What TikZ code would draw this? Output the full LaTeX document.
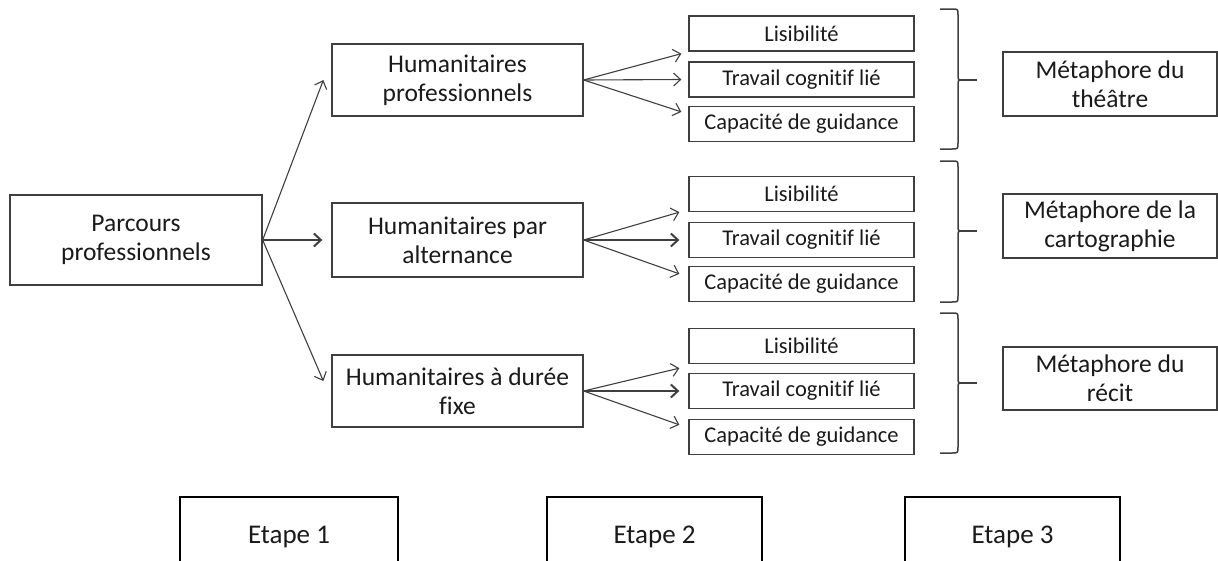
\documentclass[tikz,border=0pt]{standalone}
\usepackage{fontspec}
\setmainfont{Carlito}[Ligatures=NoCommon]
\usetikzlibrary{arrows.meta}
\definecolor{bd}{HTML}{3F3F3F}
\definecolor{tx}{HTML}{1A1A1A}
\tikzset{
 bigbox/.style={draw=bd, line width=1.3pt, minimum width=251pt, minimum height=72pt, align=center, font=\fontsize{25.5}{29}\selectfont, text=tx, inner sep=0pt},
 smallbox/.style={draw=bd, line width=1.3pt, minimum width=225pt, minimum height=35pt, font=\fontsize{22.5}{25}\selectfont, text=tx, inner sep=0pt},
 metabox/.style={draw=bd, line width=1.3pt, minimum width=214pt, minimum height=64pt, align=center, font=\fontsize{25.5}{29}\selectfont, text=tx, inner sep=0pt},
 etapebox/.style={draw=black, line width=2.8pt, minimum width=216pt, minimum height=80pt, font=\fontsize{27}{30}\selectfont, text=tx, inner sep=0pt},
 arr/.style={draw=bd, line width=1.1pt, -{Straight Barb[length=7pt,width=13pt]}},
 arrthick/.style={arr, line width=2pt},
 bracepath/.style={draw=bd, line width=1.5pt},
}
\newcommand{\curlybr}[3]{%
 \draw[bracepath] (940,#1) -- (952,#1) .. controls (958,#1) .. (958,#1+6) -- (958,#2-5) .. controls (958,#2) .. (963,#2) .. controls (958,#2) .. (958,#2+5) -- (958,#3-6) .. controls (958,#3) .. (952,#3) -- (940,#3);
 \draw[bracepath] (963,#2) -- (977,#2);
}
\begin{document}
\begin{tikzpicture}[x=1pt,y=-1pt]
\useasboundingbox (0,0) rectangle (1218,560);
\clip (0,0) rectangle (1218,560);
% main boxes
\node[bigbox, minimum width=252pt, minimum height=90pt] (P) at (136,240) {Parcours\\professionnels};
\node[bigbox] (h1) at (457.5,80) {Humanitaires\\professionnels};
\node[bigbox, minimum height=74pt] (h2) at (457.5,240) {Humanitaires par\\alternance};
\node[bigbox] (h3) at (457.5,391) {Humanitaires à durée\\fixe};
% small boxes
\node[smallbox] (L1) at (801.5,33.5) {Lisibilité};
\node[smallbox] (T1) at (801.5,79.5) {Travail cognitif lié};
\node[smallbox] (C1) at (801.5,124) {Capacité de guidance};
\node[smallbox] (L2) at (801.5,194) {Lisibilité};
\node[smallbox] (T2) at (801.5,240) {Travail cognitif lié};
\node[smallbox] (C2) at (801.5,284) {Capacité de guidance};
\node[smallbox] (L3) at (801.5,346) {Lisibilité};
\node[smallbox] (T3) at (801.5,391) {Travail cognitif lié};
\node[smallbox] (C3) at (801.5,437) {Capacité de guidance};
% metaphor boxes
\node[metabox] (m1) at (1110,84) {Métaphore du\\théâtre};
\node[metabox] (m2) at (1110,226) {Métaphore de la\\cartographie};
\node[metabox, minimum height=63pt] (m3) at (1110,378.5) {Métaphore du\\récit};
% etape boxes
\node[etapebox, minimum width=218pt] (e1) at (289,537) {Etape 1};
\node[etapebox, minimum width=215pt] (e2) at (654.5,537) {Etape 2};
\node[etapebox, minimum width=215pt] (e3) at (1012.5,537) {Etape 3};
% arrows from Parcours
\draw[arr] (P.east) -- ([xshift=-8pt]h1.west);
\draw[arrthick] (P.east) -- ([xshift=-9pt]h2.west);
\draw[arr] (P.east) -- ([xshift=-8pt,yshift=10pt]h3.west);
% arrows to criteria
\draw[arr] (h1.east) -- ([xshift=-7pt,yshift=-2pt]L1.south west);
\draw[arr] (h1.east) -- ([xshift=-7pt]T1.west);
\draw[arr] (h1.east) -- ([xshift=-7pt,yshift=-6pt]C1.north west);
\draw[arr] (h2.east) -- ([xshift=-9pt]L2.south west);
\draw[arrthick] (h2.east) -- ([xshift=-9pt]T2.west);
\draw[arr] (h2.east) -- ([xshift=-9pt,yshift=-8pt]C2.north west);
\draw[arr] (h3.east) -- ([xshift=-9pt,yshift=-4pt]L3.south west);
\draw[arrthick] (h3.east) -- ([xshift=-9pt]T3.west);
\draw[arr] (h3.east) -- ([xshift=-9pt,yshift=-6pt]C3.north west);
% braces
\curlybr{9}{80}{149}
\curlybr{161}{231}{302}
\curlybr{313}{383}{453}
\end{tikzpicture}
\end{document}
